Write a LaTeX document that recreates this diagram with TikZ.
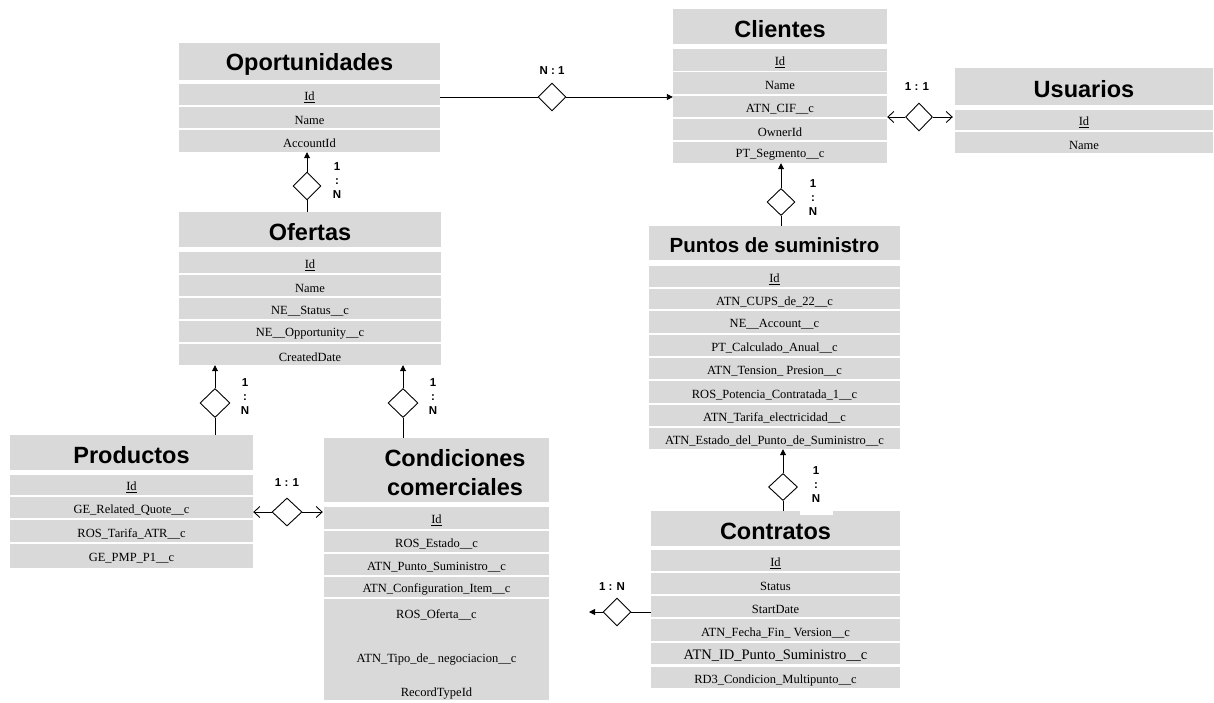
\documentclass[tikz,border=0pt]{standalone}
\usepackage{fontspec}
\setmainfont{Liberation Serif}
\newfontfamily\hsans{Liberation Sans}
\usetikzlibrary{shapes.geometric,arrows.meta}
\definecolor{boxgray}{HTML}{D9D9D9}
\newcommand\rbox[7]{%
 \pgfmathsetmacro\rbW{#4-#2}\pgfmathsetmacro\rbH{#5-#3}%
 \node[cell,minimum width=\rbW pt,minimum height=\rbH pt] (#1) at ({(#2+#4)/2},{(#3+#5)/2}) {};
 \node[celltext,#7] (#1t) at ([yshift=-2.5pt]#1.center) {#6};}
\tikzset{
 cell/.style={fill=boxgray,inner sep=0pt},
 celltext/.style={inner sep=0pt,font=\fontsize{12.5}{14}\selectfont},
 ttl/.style={font=\hsans\bfseries\fontsize{23.5}{29}\selectfont},
 rel/.style={diamond,draw,fill=white,inner sep=0pt,minimum width=28pt,minimum height=28pt,line width=0.9pt},
 lbl/.style={font=\hsans\bfseries\fontsize{11.5}{14}\selectfont,align=center,inner sep=0pt},
 conn/.style={line width=0.9pt},
 fa/.style={-{Triangle[length=6pt,width=6pt]}},
 oa/.style={-{Straight Barb[length=6pt,width=11pt]}}
}
\begin{document}
\begin{tikzpicture}[x=1pt,y=-1pt]
\useasboundingbox (0,0) rectangle (1214,702);
% Oportunidades
\rbox{opH}{179}{43}{440}{80}{Oportunidades}{ttl}
\rbox{opId}{179}{84}{440}{105}{\underline{Id}}{}
\rbox{opName}{179}{107}{440}{128}{Name}{}
\rbox{opAcc}{179}{130}{440}{152}{AccountId}{}
% Clientes
\rbox{clH}{673}{9}{887}{44}{Clientes}{ttl}
\rbox{clId}{673}{49}{887}{71}{\underline{Id}}{}
\rbox{clName}{673}{72}{887}{94}{Name}{}
\rbox{clCif}{673}{96}{887}{117}{ATN\_CIF\_\_c}{}
\rbox{clOwn}{673}{119}{887}{140}{OwnerId}{}
\rbox{clSeg}{673}{142}{887}{163}{PT\_Segmento\_\_c}{}
% Usuarios
\rbox{usH}{955}{68}{1213}{105}{Usuarios}{ttl}
\rbox{usId}{955}{110}{1213}{130}{\underline{Id}}{}
\rbox{usName}{955}{132}{1213}{153}{Name}{}
% Ofertas
\rbox{ofH}{179}{212}{441}{247}{Ofertas}{ttl}
\rbox{ofId}{179}{252}{441}{273}{\underline{Id}}{}
\rbox{ofName}{179}{275}{441}{296}{Name}{}
\rbox{ofSt}{179}{298}{441}{319}{NE\_\_Status\_\_c}{}
\rbox{ofOpp}{179}{321}{441}{342}{NE\_\_Opportunity\_\_c}{}
\rbox{ofCr}{179}{344}{441}{365}{CreatedDate}{}
% Productos
\rbox{prH}{10}{435}{253}{470}{Productos}{ttl}
\rbox{prId}{10}{475}{253}{495}{\underline{Id}}{}
\rbox{prRel}{10}{497}{253}{518}{GE\_Related\_Quote\_\_c}{}
\rbox{prTar}{10}{520}{253}{542}{ROS\_Tarifa\_ATR\_\_c}{}
\rbox{prPmp}{10}{544}{253}{568}{GE\_PMP\_P1\_\_c}{}
% Condiciones comerciales
\rbox{cdH}{324}{438}{549}{502}{}{}
\node[ttl,align=center,inner sep=0pt] (cdT) at (455,473) {Condiciones\\comerciales};
\rbox{cdId}{324}{507}{549}{529}{\underline{Id}}{}
\rbox{cdEst}{324}{531}{549}{552}{ROS\_Estado\_\_c}{}
\rbox{cdPunto}{324}{554}{549}{575}{ATN\_Punto\_Suministro\_\_c}{}
\rbox{cdConf}{324}{577}{549}{597}{ATN\_Configuration\_Item\_\_c}{}
\rbox{cdRest}{324}{599}{549}{700}{}{}
\node[celltext] (cdOf) at (436.5,615) {ROS\_Oferta\_\_c};
\node[celltext] (cdTipo) at (436.5,659) {ATN\_Tipo\_de\_ negociacion\_\_c};
\node[celltext] (cdRec) at (436.5,693) {RecordTypeId};
% Puntos de suministro
\rbox{puH}{649}{226}{900}{260}{Puntos de suministro}{ttl,font=\hsans\bfseries\fontsize{20.5}{24}\selectfont}
\rbox{puId}{649}{266}{900}{287}{\underline{Id}}{}
\rbox{puCups}{649}{289}{900}{309}{ATN\_CUPS\_de\_22\_\_c}{}
\rbox{puAcc}{649}{311}{900}{333}{NE\_\_Account\_\_c}{}
\rbox{puCalc}{649}{335}{900}{356}{PT\_Calculado\_Anual\_\_c}{}
\rbox{puTen}{649}{358}{900}{379}{ATN\_Tension\_ Presion\_\_c}{}
\rbox{puPot}{649}{381}{900}{403}{ROS\_Potencia\_Contratada\_1\_\_c}{}
\rbox{puTar}{649}{405}{900}{426}{ATN\_Tarifa\_electricidad\_\_c}{}
\rbox{puEst}{649}{428}{900}{449}{ATN\_Estado\_del\_Punto\_de\_Suministro\_\_c}{}
% Contratos
\rbox{ctH}{651}{511}{900}{546}{Contratos}{ttl}
\rbox{ctId}{651}{550}{900}{571}{\underline{Id}}{}
\rbox{ctSt}{651}{573}{900}{594}{Status}{}
\rbox{ctStart}{651}{596}{900}{617}{StartDate}{}
\rbox{ctFe}{651}{619}{900}{641}{ATN\_Fecha\_Fin\_ Version\_\_c}{}
\rbox{ctIdp}{651}{643}{900}{664}{ATN\_ID\_Punto\_Suministro\_\_c}{font=\fontsize{14.5}{16}\selectfont}
\rbox{ctRd}{651}{667}{900}{688}{RD3\_Condicion\_Multipunto\_\_c}{}
% Relations
\node[rel] (r1) at (552,97) {};
\draw[conn] (opId.east |- r1) -- (r1.west);
\draw[conn,fa] (r1.east) -- (r1 -| clId.west);
\node[lbl] (l1) at (552,71) {N : 1};

\node[rel,minimum width=27pt,minimum height=28pt] (r2) at (919,117) {};
\draw[conn,oa] (r2.west) -- (r2 -| clCif.east);
\draw[conn,oa] (r2.east) -- ([xshift=-2pt]r2 -| usId.west);
\node[lbl] (l2) at (917,87) {1 : 1};

\node[rel] (r3) at (307,186) {};
\draw[conn,fa] (r3.north) -- (r3 |- opAcc.south);
\draw[conn] (r3.south) -- (r3 |- ofH.north);
\node[lbl] (l3) at (337,181) {1\\:\\N};

\node[rel,minimum width=30pt,minimum height=29pt] (r4) at (215,403) {};
\draw[conn,fa] (r4.north) -- (r4 |- ofCr.south);
\draw[conn] (r4.south) -- (r4 |- prH.north);
\node[lbl] (l4) at (245,397) {1\\:\\N};

\node[rel,minimum width=30pt,minimum height=29pt] (r5) at (403,403) {};
\draw[conn,fa] (r5.north) -- (r5 |- ofCr.south);
\draw[conn] (r5.south) -- (r5 |- cdH.north);
\node[lbl] (l5) at (433,397) {1\\:\\N};

\node[rel,minimum width=30pt,minimum height=28pt] (r6) at (287,512) {};
\draw[conn,oa] (r6.west) -- (r6 -| prRel.east);
\draw[conn,oa] (r6.east) -- ([xshift=-1pt]r6 -| cdId.west);
\node[lbl] (l6) at (287,483) {1 : 1};

\coordinate (t7) at (589,612);
\node[rel] (r7) at (617,612) {};
\draw[conn,fa] (r7.west) -- (t7);
\draw[conn] (r7.east) -- (r7 -| ctStart.west);
\node[lbl] (l7) at (612,587) {1 : N};

\node[rel,minimum width=29pt,minimum height=27pt] (r8) at (783,487) {};
\draw[conn,fa] (r8.north) -- (r8 |- puEst.south);
\draw[conn] (r8.south) -- (r8 |- ctH.north);
\node[lbl,fill=white,minimum width=33pt,minimum height=60pt] (l8) at (816,485) {1\\:\\N};

\node[rel,minimum width=28pt,minimum height=27pt] (r9) at (781,202) {};
\draw[conn,fa] (r9.north) -- (r9 |- clSeg.south);
\draw[conn] (r9.south) -- (r9 |- puH.north);
\node[lbl] (l9) at (813,198) {1\\:\\N};
\end{tikzpicture}
\end{document}
